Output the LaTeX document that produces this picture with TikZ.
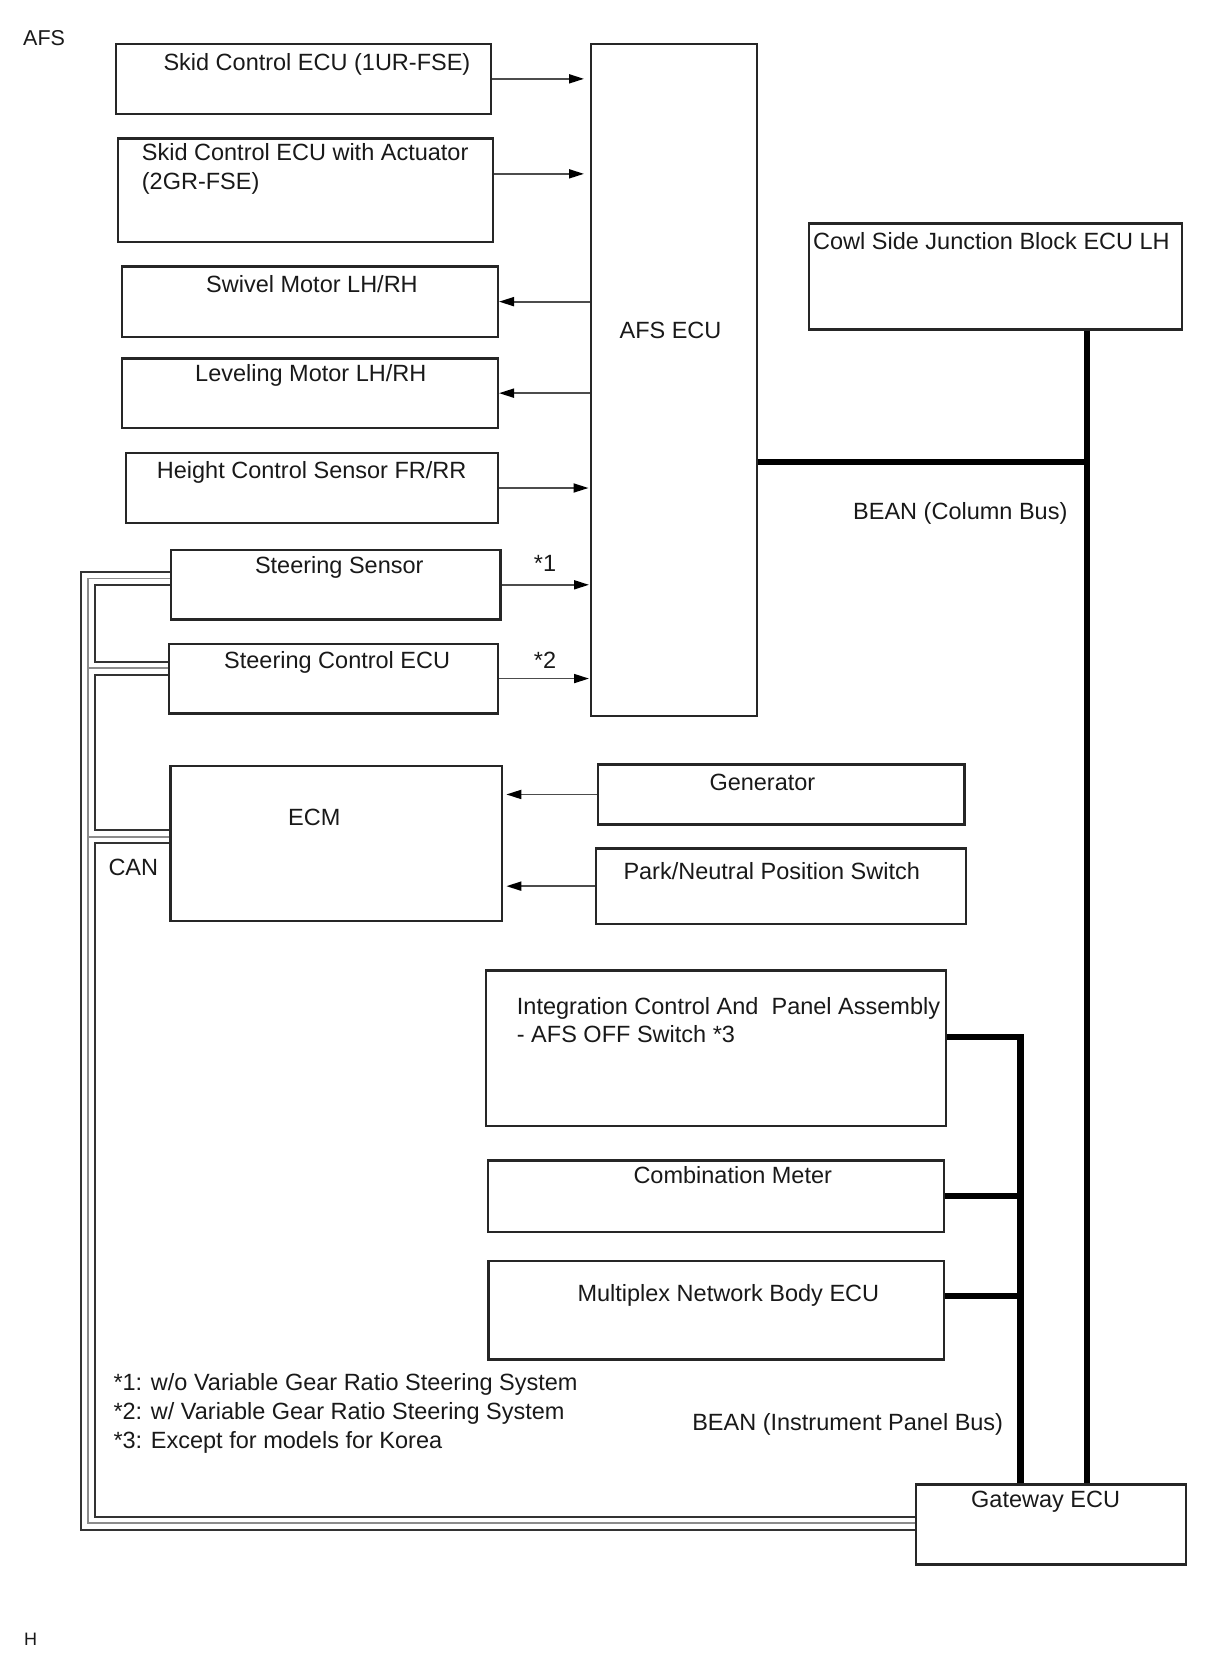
\documentclass[tikz,border=0pt]{standalone}
\usepackage{fontspec}
\setmainfont{Liberation Sans}
\usetikzlibrary{arrows.meta}
\begin{document}
\begin{tikzpicture}[x=1pt,y=-1pt,
  box/.style={draw=black!85, line width=2.3pt, inner sep=0pt, anchor=north west},
  txt/.style={inner sep=0pt, anchor=base west, font=\fontsize{23.5}{28}\selectfont, text=black!90},
  small/.style={inner sep=0pt, anchor=base west, font=\fontsize{18}{20}\selectfont, text=black!90},
  arr/.style={draw=black!70, line width=1.8pt, -{Triangle[length=15pt,width=9pt,color=black]}},
  bus/.style={line width=6.5pt, draw=black, line join=miter}]
\useasboundingbox (0,0) rectangle (1210,1668);

% boxes
\node[box, minimum width=375pt, minimum height=70pt] (skid1) at (115,42.7) {};
\node[box, minimum width=375pt, minimum height=103.4pt] (skid2) at (116.7,137.3) {};
\node[box, minimum width=166pt, minimum height=672.3pt] (afs) at (590,42.7) {};
\node[box, minimum width=376pt, minimum height=70.4pt] (swivel) at (120.7,265.3) {};
\node[box, minimum width=376pt, minimum height=69.4pt] (level) at (120.7,357.3) {};
\node[box, minimum width=371.7pt, minimum height=70.3pt] (height) at (125,451.7) {};
\node[box, minimum width=329.5pt, minimum height=69.3pt] (ss) at (169.7,549) {};
\node[box, minimum width=329.1pt, minimum height=69.8pt] (sc) at (167.5,642.5) {};
\node[box, minimum width=331.8pt, minimum height=155pt] (ecm) at (169.2,765) {};
\node[box, minimum width=366.6pt, minimum height=60pt] (gen) at (596.7,763.3) {};
\node[box, minimum width=370pt, minimum height=75.4pt] (park) at (595,847.3) {};
\node[box, minimum width=373.4pt, minimum height=106pt] (cowl) at (807.6,222.3) {};
\node[box, minimum width=460pt, minimum height=155.7pt] (integ) at (485,969.3) {};
\node[box, minimum width=456pt, minimum height=71.4pt] (comb) at (486.7,1159.3) {};
\node[box, minimum width=455.4pt, minimum height=98.3pt] (multi) at (487.3,1260) {};
\node[box, minimum width=270pt, minimum height=80pt] (gw) at (915,1483.3) {};

% texts
\node[small, font=\fontsize{21.5}{24}\selectfont] (tAFS) at (23,45.5) {AFS};
\node[small] (tH) at (24,1645) {H};
\node[txt] (t1) at (163.3,70) {Skid Control ECU (1UR-FSE)};
\node[txt] (t2a) at (141.7,160.7) {Skid Control ECU with Actuator};
\node[txt] (t2b) at (141.7,189.3) {(2GR-FSE)};
\node[txt] (t3) at (206,292.3) {Swivel Motor LH/RH};
\node[txt] (t4) at (195,381) {Leveling Motor LH/RH};
\node[txt] (t5) at (156.7,478.3) {Height Control Sensor FR/RR};
\node[txt] (t6) at (254.8,573.3) {Steering Sensor};
\node[txt] (s1) at (533.7,571.7) {*1};
\node[txt] (t7) at (224,668.3) {Steering Control ECU};
\node[txt] (s2) at (533.7,668.3) {*2};
\node[txt] (t8) at (288,825) {ECM};
\node[txt] (tCAN) at (108.3,875) {CAN};
\node[txt] (tAFSECU) at (619.4,338.3) {AFS ECU};
\node[txt] (tcowl) at (813,249) {Cowl Side Junction Block ECU LH};
\node[txt] (tcol) at (853,519.3) {BEAN (Column Bus)};
\node[txt] (tgen) at (709.3,790) {Generator};
\node[txt] (tpark) at (623.3,879.3) {Park/Neutral Position Switch};
\node[txt] (tint1) at (516.7,1014.3) {Integration Control And\ \ Panel Assembly};
\node[txt] (tint2) at (516.7,1042.7) {- AFS OFF Switch *3};
\node[txt] (tcomb) at (633.3,1183.3) {Combination Meter};
\node[txt] (tmulti) at (577.3,1301) {Multiplex Network Body ECU};
\node[txt] (f1) at (113.3,1390.3) {*1: w/o Variable Gear Ratio Steering System};
\node[txt] (f2) at (113.3,1419.3) {*2: w/ Variable Gear Ratio Steering System};
\node[txt] (f3) at (113.3,1448.3) {*3: Except for models for Korea};
\node[txt, anchor=base east] (tip) at (1003.3,1430) {BEAN (Instrument Panel Bus)};
\node[txt] (tgw) at (971,1507.3) {Gateway ECU};

% arrows
\draw[arr, shorten >=6pt] (skid1.east) -- (skid1.east -| afs.west);
\draw[arr, shorten >=6pt] ([yshift=16.3pt]skid2.east) -- ([yshift=16.3pt]skid2.east -| afs.west);
\draw[arr] (afs.west |- swivel.east) -- (swivel.east);
\draw[arr] (afs.west |- level.east) -- (level.east);
\draw[arr, shorten >=1.5pt] (height.east) -- (height.east -| afs.west);
\draw[arr, shorten >=1pt] (ss.east) -- (ss.east -| afs.west);
\draw[arr, shorten >=1pt] (sc.east) -- (sc.east -| afs.west);
\draw[arr, shorten >=3pt] (gen.west) -- (gen.west -| ecm.east);
\draw[arr, shorten >=3pt] (park.west) -- (park.west -| ecm.east);

% BEAN buses
\coordinate (gwIP) at ([xshift=-30.7pt]gw.north);
\coordinate (gwCol) at ([xshift=36pt]gw.north);
\draw[bus] ([yshift=11.2pt]integ.east) -| (gwIP);
\draw[bus] (comb.east) -- (comb.east -| gwIP);
\draw[bus] ([yshift=14.2pt]multi.east) -- ([yshift=14.2pt]multi.east -| gwIP);
\draw[bus] (cowl.south -| gwCol) -- (gwCol);
\draw[bus] ([yshift=-82.2pt]afs.east) -- ([yshift=-82.2pt]afs.east -| gwCol);

% CAN cable
\coordinate (cTop) at (88,577.3);
\coordinate (cBot) at (88,1523.3);
\coordinate (bSS) at ([yshift=6.35pt]ss.west);
\coordinate (bSC) at ([yshift=10.4pt]sc.west);
\coordinate (bECM) at ([yshift=7pt]ecm.west);
\foreach \w/\c in {15.3/black!80, 11.3/white, 1.8/black!45} {
  \draw[line width=\w pt, draw=\c, line join=miter] (bSS) -- (bSS -| cTop) -- (cBot) -- (gw.west |- cBot);
  \draw[line width=\w pt, draw=\c] (bSC) -- (bSC -| cTop);
  \draw[line width=\w pt, draw=\c] (bECM) -- (bECM -| cTop);
}
\end{tikzpicture}
\end{document}
